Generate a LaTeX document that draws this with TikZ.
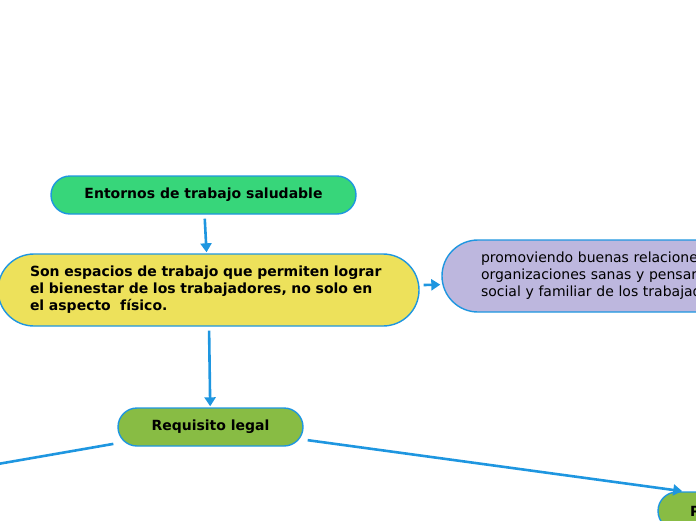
\documentclass[tikz,border=0pt]{standalone}
\usepackage{fontspec}
\setmainfont{DejaVu Sans}
\usetikzlibrary{arrows.meta}
\definecolor{linkblue}{RGB}{30,150,224}
\definecolor{topicgreen}{RGB}{55,214,122}
\definecolor{topicyellow}{RGB}{237,225,91}
\definecolor{topicpurple}{RGB}{189,183,222}
\definecolor{topicolive}{RGB}{136,188,68}
\begin{document}
\begin{tikzpicture}[x=1pt,y=-1pt,every node/.style={font=\fontsize{14}{17}\selectfont}]
    \tikzset{
      topic/.style={draw=linkblue,line width=1.4pt,inner sep=0pt,align=center},
      bold/.style={font=\fontsize{14}{17}\selectfont\bfseries},
      link/.style={linkblue,line width=2.6pt,shorten <=4pt,shorten >=1pt,-{Triangle[length=9pt,width=11pt]}}
    }
    \useasboundingbox (0,0) rectangle (696,520);
    \clip (0,0) rectangle (696,520);
    \node[topic,bold,fill=topicgreen,rounded corners=19pt,minimum width=305pt,minimum height=38pt] (entornos) at (203.5,195) {Entornos de trabajo saludable};
    \node[topic,bold,fill=topicyellow,rounded corners=36pt,minimum width=421pt,minimum height=72pt,text width=357pt,align=left] (espacios) at (208.5,290)
      {Son espacios de trabajo que permiten lograr\\el bienestar de los trabajadores, no solo en\\el aspecto\ \ físico.};
    \node[topic,fill=topicpurple,rounded corners=36pt,minimum width=750pt,minimum height=72pt,text width=672pt,align=left] (relaciones) at (817,276)
      {promoviendo buenas relaciones\\organizaciones sanas y pensar\\social y familiar de los trabajadores};
    \node[topic,bold,fill=topicolive,rounded corners=19pt,minimum width=185pt,minimum height=38pt] (requisito) at (210.5,427) {Requisito legal};
    \node[topic,bold,fill=topicolive,rounded corners=19pt,minimum width=340pt,minimum height=38pt,text width=276pt,align=left] (derecha) at (828,511) {P};
    \coordinate (izquierda) at (-100,481);
    \draw[link] (entornos) -- (espacios);
    \draw[link] (espacios) -- (relaciones);
    \draw[link] (espacios) -- (requisito);
    \draw[link] (requisito) -- (izquierda);
    \draw[link] (requisito) -- (derecha);
\end{tikzpicture}
\end{document}
